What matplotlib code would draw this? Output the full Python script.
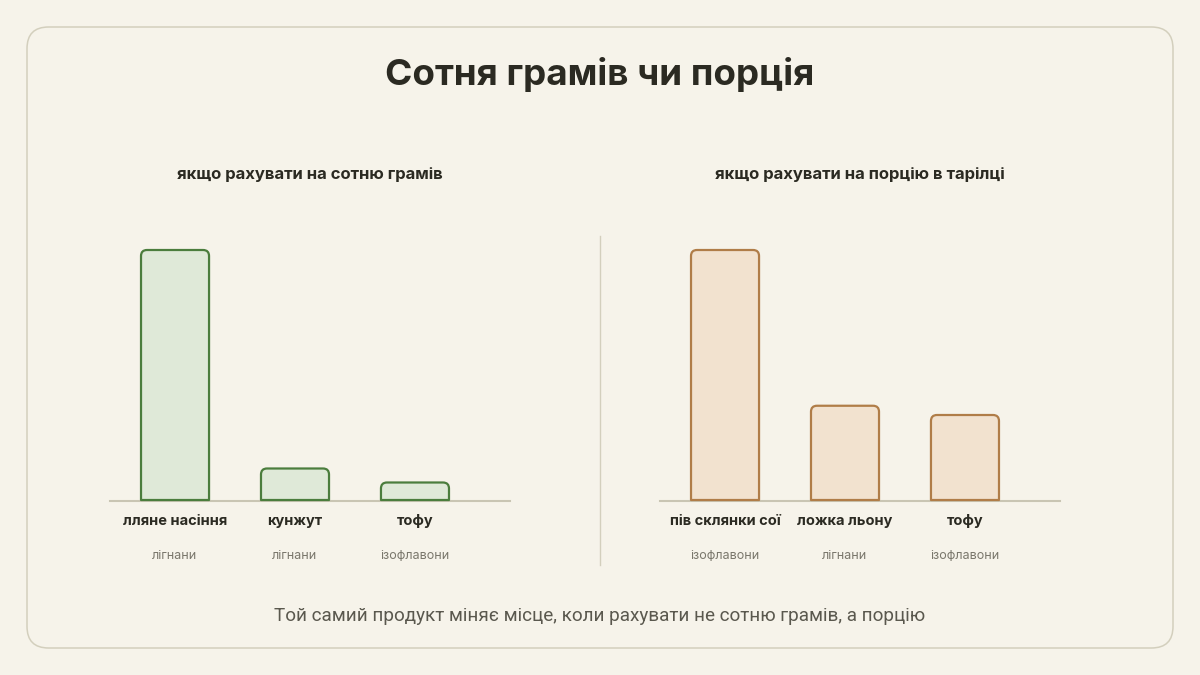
import matplotlib
matplotlib.use("Agg")
import matplotlib.pyplot as plt
from matplotlib.patches import FancyBboxPatch, PathPatch
from matplotlib.path import Path

plt.rcParams['font.family'] = ['Inter', 'DejaVu Sans']

# data (relative content, tallest bar = 100)
left_cats = ["лляне насіння", "кунжут", "тофу"]
left_kind = ["лігнани", "лігнани", "ізофлавони"]
left_vals = [100, 12.6, 7.0]

right_cats = ["пів склянки сої", "ложка льону", "тофу"]
right_kind = ["ізофлавони", "лігнани", "ізофлавони"]
right_vals = [100, 37.7, 34.0]

title = "Сотня грамів чи порція"
left_title = "якщо рахувати на сотню грамів"
right_title = "якщо рахувати на порцію в тарілці"
footer = "Той самий продукт міняє місце, коли рахувати не сотню грамів, а порцію"

BG = "#f6f3ea"
DARK = "#2b2a22"
GREY = "#7a776c"
W, H = 1200, 675

fig = plt.figure(figsize=(12, 6.75), dpi=100)
fig.patch.set_facecolor(BG)


def fx(px):
    return px / W


def fy(py):
    return 1 - py / H


# card border
card = FancyBboxPatch((fx(27), fy(648)), fx(1146), 621 / H,
                      boxstyle="round,pad=0,rounding_size=0.018",
                      transform=fig.transFigure, facecolor="none",
                      edgecolor="#d3cfbd", lw=1.1, mutation_aspect=W / H,
                      zorder=-5)
fig.patches.append(card)

fig.text(0.5, fy(74), title, ha="center", va="center", fontsize=26.5,
         fontweight="bold", color=DARK)
fig.text(0.5, fy(616), footer, ha="center", va="center", fontsize=13.6,
         color="#5a584e", family=['Roboto', 'DejaVu Sans'])

# divider
fig.add_artist(plt.Line2D([0.5, 0.5], [fy(236), fy(565)], transform=fig.transFigure,
                          color="#d3cfbd", lw=1))


def rounded_bar(ax, x, h, width, r_px, face, edge):
    # rounded top corners, square bottom
    px_x = ax.bbox.width / (ax.get_xlim()[1] - ax.get_xlim()[0])
    px_y = ax.bbox.height / (ax.get_ylim()[1] - ax.get_ylim()[0])
    rx = r_px / px_x
    ry = min(r_px / px_y, h / 2)
    x0, x1 = x - width / 2, x + width / 2
    verts = [(x0, 0), (x0, h - ry), (x0, h), (x0 + rx, h),
             (x1 - rx, h), (x1, h), (x1, h - ry), (x1, 0), (x0, 0)]
    codes = [Path.MOVETO, Path.LINETO, Path.CURVE3, Path.CURVE3,
             Path.LINETO, Path.CURVE3, Path.CURVE3, Path.LINETO, Path.CLOSEPOLY]
    ax.add_patch(PathPatch(Path(verts, codes), facecolor=face, edgecolor=edge,
                           lw=1.6, clip_on=False, joinstyle="round", zorder=2))


def panel(x_left, cats, kinds, vals, sub, face, edge):
    ax = fig.add_axes([fx(x_left), fy(500), fx(400), 250 / H])
    ax.set_facecolor("none")
    ax.set_xlim(-0.542, 2.792)
    ax.set_ylim(0, 100)
    ax.axis("off")
    for i, v in enumerate(vals):
        rounded_bar(ax, i, v, 0.567, 6, face, edge)
    ax.axhline(-0.4, color="#c9c5b3", lw=1.5, zorder=1, clip_on=False)
    for i, (c, k) in enumerate(zip(cats, kinds)):
        xf = fx(x_left + 65 + 120 * i)
        fig.text(xf, fy(521), c, ha="center", va="center", fontsize=10.5,
                 fontweight="bold", color=DARK)
        fig.text(xf, fy(556), k, ha="center", va="center", fontsize=9,
                 color=GREY)
    fig.text(fx(x_left + 200), fy(174), sub, ha="center", va="center",
             fontsize=12, fontweight="bold", color=DARK)
    return ax


panel(110, left_cats, left_kind, left_vals, left_title, "#dfe9d8", "#4b7d3d")
panel(660, right_cats, right_kind, right_vals, right_title, "#f2e2cf", "#b07d48")

fig.savefig("out.png", dpi=100, facecolor=BG)
